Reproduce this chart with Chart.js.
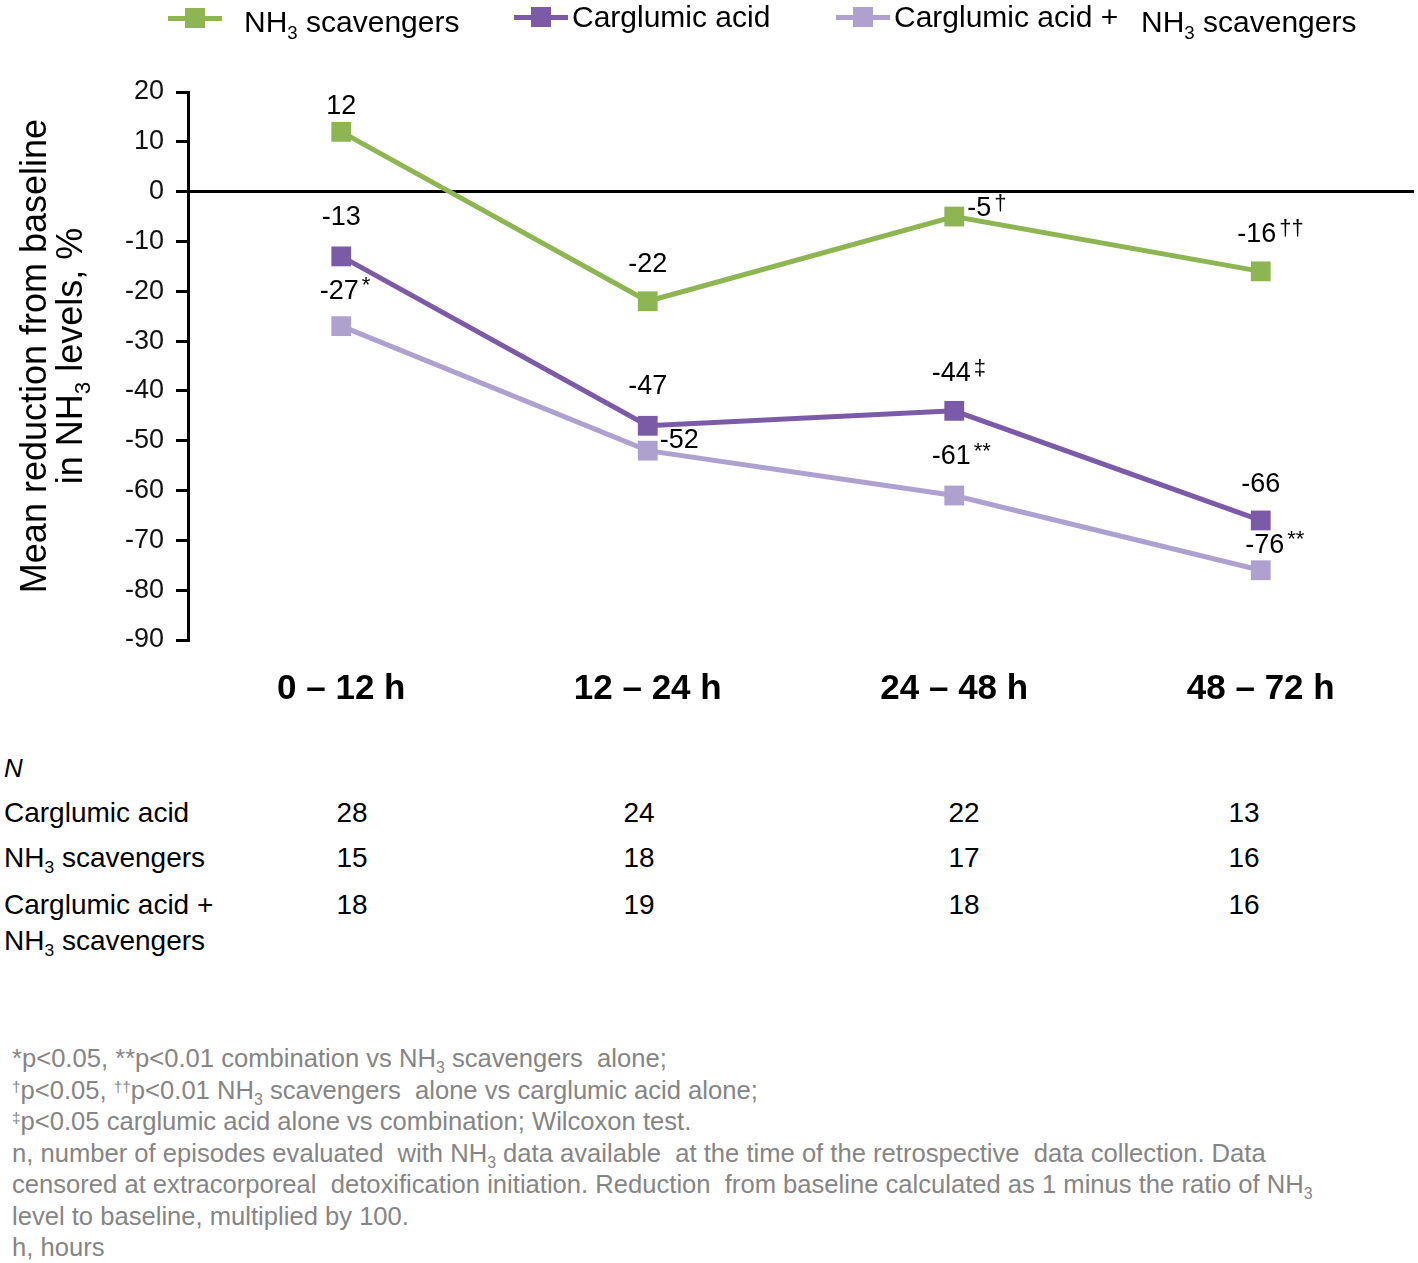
<!DOCTYPE html>
<html>
<head>
<meta charset="utf-8">
<script src="https://cdn.jsdelivr.net/npm/chart.js@4.4.1/dist/chart.umd.min.js"></script>
<style>
body { margin: 0; background: #fff; font-family: "Liberation Sans", Arial, sans-serif; color: #000; }
#page { position: relative; width: 1418px; height: 1263px; overflow: hidden; }
#wrap { position: absolute; left: 0; top: 0; width: 1418px; height: 720px; overflow: hidden; }
.abs { position: absolute; white-space: nowrap; }
sub { font-size: 62%; vertical-align: -0.35em; line-height: 0; }
sup { font-size: 60%; vertical-align: 0.45em; line-height: 0; }
.legtxt { position: absolute; font-size: 30px; white-space: nowrap; }
#ytitle { position: absolute; left: 52px; top: 356px; width: 520px; transform: translate(-50%, -50%) rotate(-90deg);
  text-align: center; font-size: 36px; line-height: 36px; white-space: nowrap; }
.tbl { position: absolute; font-size: 28px; line-height: 32px; white-space: nowrap; }
.num { position: absolute; font-size: 28px; transform: translateX(-50%); }
#notes { position: absolute; left: 12px; top: 1043px; font-size: 25.6px; line-height: 31.5px; color: #858585; white-space: nowrap; }
</style>
</head>
<body>
<div id="page">
  <div id="wrap"><canvas id="chart" width="1428" height="720"></canvas></div>
  <div id="legend"></div>
  <div id="ytitle">Mean reduction from baseline<br>in NH<sub>3</sub> levels, %</div>
  <div id="table"></div>
  <div id="notes">
    *p&lt;0.05, **p&lt;0.01 combination vs NH<sub>3</sub> scavengers&nbsp; alone;<br>
    <sup>†</sup>p&lt;0.05, <sup>††</sup>p&lt;0.01 NH<sub>3</sub> scavengers&nbsp; alone vs carglumic acid alone;<br>
    <sup>‡</sup>p&lt;0.05 carglumic acid alone vs combination; Wilcoxon test.<br>
    n, number of episodes evaluated&nbsp; with NH<sub>3</sub> data available&nbsp; at the time of the retrospective&nbsp; data collection. Data<br>
    censored at extracorporeal&nbsp; detoxification initiation. Reduction&nbsp; from baseline calculated as 1 minus the ratio of NH<sub>3</sub><br>
    level to baseline, multiplied by 100.<br>
    h, hours
  </div>
</div>
<script>
// data
const categories = ["0 – 12 h", "12 – 24 h", "24 – 48 h", "48 – 72 h"];
const scavengers = [12, -22, -5, -16];
const carglumic = [-13, -47, -44, -66];
const combination = [-27, -52, -61, -76];
const sigScavengers = ["", "", "†", "††"];
const sigCarglumic = ["", "", "‡", ""];
const sigCombination = ["*", "", "**", "**"];
const yTicks = [20, 10, 0, -10, -20, -30, -40, -50, -60, -70, -80, -90];

// N table
const nCarglumic = [28, 24, 22, 13];
const nScavengers = [15, 18, 17, 16];
const nCombination = [18, 19, 18, 16];

const green = "#8db653";
const purple = "#7b5ba8";
const lilac = "#afa1cf";

// label placement per point (dx, dy from the marker, alignment)
const labelPos = [
  [[0, -25, "center"], [0, -37, "center"], [13, -8, "left"], [-4, -37, "center"]],
  [[0, -39, "center"], [0, -39, "center"], [-3, -37, "center"], [0, -36, "center"]],
  [[-2, -35, "center"], [12, -10, "left"], [-3, -39, "center"], [4, -25, "center"]]
];

const valueLabels = {
  id: "valueLabels",
  afterDatasetsDraw(chart) {
    const ctx = chart.ctx;
    ctx.save();
    chart.data.datasets.forEach((ds, i) => {
      const meta = chart.getDatasetMeta(i);
      meta.data.forEach((pt, j) => {
        const [dx, dy, align] = labelPos[i][j];
        const main = String(ds.data[j]);
        ctx.font = "27px 'Liberation Sans', Arial";
        ctx.fillStyle = "#000";
        ctx.textBaseline = "middle";
        ctx.textAlign = align;
        const x = pt.x + dx, y = pt.y + dy;
        ctx.fillText(main, x, y);
        const w = ctx.measureText(main).width;
        const end = align === "center" ? x + w / 2 : x + w;
        if (ds.sig[j]) {
          ctx.font = "22px 'Liberation Sans', Arial";
          ctx.textAlign = "left";
          ctx.fillText(ds.sig[j], end + 3, y - 5);
        }
      });
    });
    ctx.restore();
  }
};

function line(label, data, sig, color) {
  return {
    label, data, sig,
    borderColor: color, backgroundColor: color,
    borderWidth: 5, pointStyle: "rect", pointRadius: 14, pointHoverRadius: 14,
    pointBorderWidth: 0, tension: 0
  };
}

new Chart(document.getElementById("chart"), {
  type: "line",
  data: {
    labels: categories,
    datasets: [
      line("NH3 scavengers", scavengers, sigScavengers, green),
      line("Carglumic acid", carglumic, sigCarglumic, purple),
      line("Carglumic acid + NH3 scavengers", combination, sigCombination, lilac)
    ]
  },
  options: {
    responsive: false,
    devicePixelRatio: 1,
    animation: false,
    layout: { padding: { top: 92, right: 4, left: 0, bottom: 0 } },
    plugins: { legend: { display: false }, tooltip: { enabled: false } },
    scales: {
      x: {
        offset: true,
        grid: { display: false },
        border: { display: false },
        ticks: { color: "#000", font: { size: 35, weight: "bold", family: "'Liberation Sans', Arial" }, padding: 20, maxRotation: 0 },
        afterFit(scale) { scale.height = 80; }
      },
      y: {
        min: -90, max: 20,
        afterBuildTicks(scale) { scale.ticks = yTicks.map(v => ({ value: v })); },
        grid: {
          drawOnChartArea: true,
          color: c => (c.tick && c.tick.value === 0 ? "#000" : "rgba(0,0,0,0)"),
          tickColor: "#000",
          lineWidth: 3,
          tickLength: 12
        },
        border: { color: "#000", width: 3 },
        ticks: { color: "#111", font: { size: 27, family: "'Liberation Sans', Arial" }, padding: 12 },
        afterFit(scale) { scale.width = 188; }
      }
    }
  },
  plugins: [valueLabels]
});

// legend
const legendItems = [
  { color: green, lineX: 168, lineW: 54, y: 18, html: "NH<sub>3</sub> scavengers", tx: 244, ty: 5 },
  { color: purple, lineX: 514, lineW: 54, y: 17, html: "Carglumic acid", tx: 572, ty: 0 },
  { color: lilac, lineX: 836, lineW: 54, y: 17, html: "Carglumic acid +", tx: 894, ty: 0 }
];
const legend = document.getElementById("legend");
legendItems.forEach(it => {
  const ln = document.createElement("div");
  ln.className = "abs";
  ln.style.cssText = `left:${it.lineX}px;top:${it.y - 2.5}px;width:${it.lineW}px;height:5px;background:${it.color}`;
  legend.appendChild(ln);
  const sq = document.createElement("div");
  sq.className = "abs";
  sq.style.cssText = `left:${it.lineX + it.lineW / 2 - 10}px;top:${it.y - 10}px;width:20px;height:20px;background:${it.color}`;
  legend.appendChild(sq);
  const t = document.createElement("div");
  t.className = "legtxt";
  t.style.cssText = `left:${it.tx}px;top:${it.ty}px`;
  t.innerHTML = it.html;
  legend.appendChild(t);
});
const extra = document.createElement("div");
extra.className = "legtxt";
extra.style.cssText = "left:1141px;top:5px";
extra.innerHTML = "NH<sub>3</sub> scavengers";
legend.appendChild(extra);

// N table
const table = document.getElementById("table");
const colX = [352, 639, 964, 1244];
const rows = [
  { label: "Carglumic acid", values: nCarglumic, y: 797 },
  { label: "NH<sub>3</sub> scavengers", values: nScavengers, y: 842 },
  { label: "Carglumic acid +<br><span style='position:relative;top:4px'>NH<sub>3</sub> scavengers</span>", values: nCombination, y: 889 }
];
const nHead = document.createElement("div");
nHead.className = "tbl";
nHead.style.cssText = "left:4px;top:752px;font-style:italic;font-size:26px";
nHead.textContent = "N";
table.appendChild(nHead);
rows.forEach(r => {
  const l = document.createElement("div");
  l.className = "tbl";
  l.style.cssText = `left:4px;top:${r.y}px`;
  l.innerHTML = r.label;
  table.appendChild(l);
  r.values.forEach((v, i) => {
    const n = document.createElement("div");
    n.className = "num";
    n.style.cssText = `left:${colX[i]}px;top:${r.y}px;line-height:32px`;
    n.textContent = v;
    table.appendChild(n);
  });
});
</script>
</body>
</html>
